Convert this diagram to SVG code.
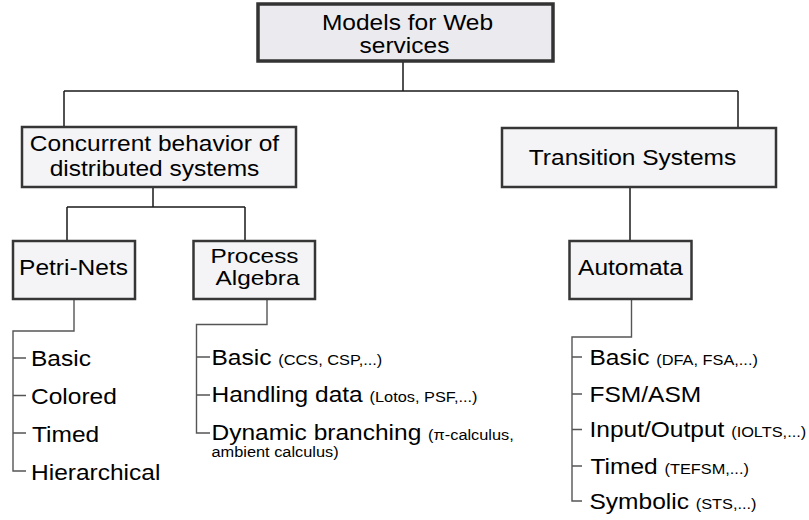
<svg xmlns="http://www.w3.org/2000/svg" width="809" height="520" viewBox="0 0 809 520">
<style>
  .box { fill: #f4f4f6; stroke: #363636; stroke-width: 2.5; }
  .root { fill: #ebebef; stroke: #333333; stroke-width: 3.5; }
  .t { font-family: "Liberation Sans", Arial, sans-serif; font-size: 22.5px; fill: #000000; }
  .c { text-anchor: middle; }
  .s { font-size: 15px; }
  .pa { font-size: 21px; }
  .ln { fill: none; stroke: #1a1a1a; stroke-width: 1.5; }
  .ll { fill: none; stroke: #555555; stroke-width: 1.4; }
</style>
<rect width="809" height="520" fill="#ffffff"/>

<g id="connectors">
  <path class="ln" d="M403,61 V91 M64,91 H738 M64,91 V127 M738,91 V128"/>
  <path class="ln" d="M153,187 V207 M67,207 H245 M67,207 V241 M245,207 V241"/>
  <path class="ln" d="M630,187 V241"/>
  <path class="ll" d="M74,299 V331 H13 V471 H26 M13,358 H26 M13,395.5 H26 M13,433 H26"/>
  <path class="ll" d="M267,299 V324.5 H196.5 V433 H210 M196.5,357 H210 M196.5,395 H210"/>
  <path class="ll" d="M631.5,299 V337 H572 V501 H582 M572,357 H582 M572,394 H582 M572,429.5 H582 M572,466 H582"/>
</g>

<g id="node-root">
  <rect class="root" x="258" y="4" width="295" height="57"/>
  <text class="t c" transform="translate(407.5 29.5) scale(1.09 1)">Models for Web</text>
  <text class="t c" transform="translate(404.5 53) scale(1.09 1)">services</text>
</g>

<g id="node-concurrent">
  <rect class="box" x="22" y="127" width="274" height="60"/>
  <text class="t c" transform="translate(154.5 150.5) scale(1.09 1)">Concurrent behavior of</text>
  <text class="t c" transform="translate(154.5 175.5) scale(1.09 1)">distributed systems</text>
</g>

<g id="node-transition">
  <rect class="box" x="502" y="128" width="274" height="59"/>
  <text class="t c" transform="translate(632.5 165) scale(1.09 1)">Transition Systems</text>
</g>

<g id="node-petri">
  <rect class="box" x="13" y="241" width="122" height="58"/>
  <text class="t c" transform="translate(73.5 275) scale(1.09 1)">Petri-Nets</text>
</g>

<g id="node-process">
  <rect class="box" x="193.5" y="241" width="121.5" height="58"/>
  <text class="t c pa" transform="translate(254.5 262.5) scale(1.16 1)">Process</text>
  <text class="t c pa" transform="translate(257.5 284.5) scale(1.16 1)">Algebra</text>
</g>

<g id="node-automata">
  <rect class="box" x="569.5" y="241" width="122" height="58"/>
  <text class="t c" transform="translate(630.5 275) scale(1.09 1)">Automata</text>
</g>

<g id="list-petri">
  <text class="t" transform="translate(31 366) scale(1.09 1)">Basic</text>
  <text class="t" transform="translate(31 404) scale(1.09 1)">Colored</text>
  <text class="t" transform="translate(32 441.5) scale(1.09 1)">Timed</text>
  <text class="t" transform="translate(31 479.5) scale(1.09 1)">Hierarchical</text>
</g>

<g id="list-process">
  <text class="t" transform="translate(211.5 365) scale(1.09 1)">Basic <tspan class="s">(CCS, CSP,...)</tspan></text>
  <text class="t" transform="translate(211.5 402) scale(1.09 1)">Handling data <tspan class="s">(Lotos, PSF,...)</tspan></text>
  <text class="t" transform="translate(211.5 440) scale(1.09 1)">Dynamic branching <tspan class="s">(π-calculus,</tspan></text>
  <text class="t s" transform="translate(211.5 457) scale(1.09 1)">ambient calculus)</text>
</g>

<g id="list-automata">
  <text class="t" transform="translate(589.5 364.5) scale(1.09 1)">Basic <tspan class="s">(DFA, FSA,...)</tspan></text>
  <text class="t" transform="translate(589.5 401.5) scale(1.09 1)">FSM/ASM</text>
  <text class="t" transform="translate(589.5 436.5) scale(1.09 1)">Input/Output <tspan class="s">(IOLTS,...)</tspan></text>
  <text class="t" transform="translate(590.5 473.5) scale(1.09 1)">Timed <tspan class="s">(TEFSM,...)</tspan></text>
  <text class="t" transform="translate(589.5 509) scale(1.09 1)">Symbolic <tspan class="s">(STS,...)</tspan></text>
</g>
</svg>
